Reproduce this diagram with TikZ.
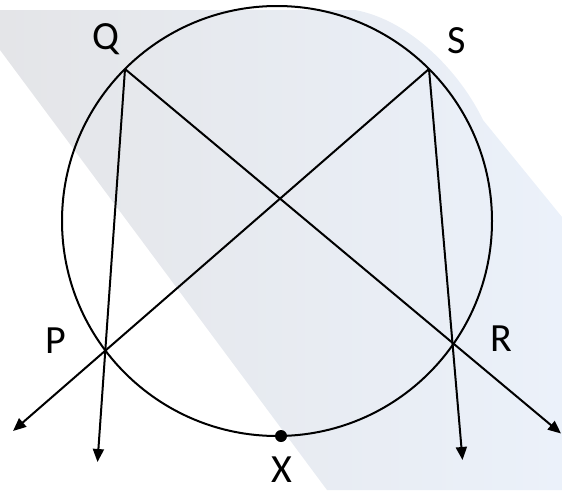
\documentclass[tikz,border=0pt]{standalone}
\usepackage{fontspec}
\setmainfont{Carlito}
\usetikzlibrary{arrows.meta,positioning}
\usetikzlibrary{calc}

\definecolor{bandgray}{RGB}{228,229,232}
\definecolor{bandblue}{RGB}{235,241,250}

\begin{document}
\begin{tikzpicture}[
    x=1pt, y=-1pt,
    >={Triangle[length=13pt,width=11pt]},
    line width=2pt,
    lbl/.style={
        inner sep=0pt,
        anchor=base,
        font=\fontsize{40}{46}\selectfont
    },
    ray/.style={
        ->,
        black,
        line width=2pt
    }
]
\useasboundingbox (0,0) rectangle (562,490);

% Background band
\shade[left color=bandgray, right color=bandblue]
(0,10) -- (355,10) .. controls (410,20) and (460,72) .. (483,120) --
(562,217) -- (562,490) -- (327,490) -- (0,50) -- cycle;

% Circle
\coordinate (O) at (277,221);
\draw (O) circle[radius=215];

% Points on the circle
\coordinate (Q) at (125,69);
\coordinate (S) at (429,69);
\coordinate (P) at (105.3,350.4);
\coordinate (R) at (453.1,344.3);
\coordinate (X) at (281,436);

% Free ends of the rays
\coordinate (qend) at (97.5,462);
\coordinate (send) at (462.5,460);
\coordinate (rend) at (561,433.5);
\coordinate (pend) at (13,431);

% Rays
\draw[ray] (Q) -- (qend);
\draw[ray] (S) -- (send);
\draw[ray] (Q) -- (rend);
\draw[ray] (S) -- (pend);

% Point X
\fill (X) circle[radius=6];

% Labels
\node[lbl] (lq) at (106,49) {Q};
\node[lbl] (ls) at (457,53) {S};
\node[lbl] (lp) at (56,353) {P};
\node[lbl] (lr) at (501,351) {R};
\node[lbl] (lx) at (282,482) {X};

\end{tikzpicture}
\end{document}
